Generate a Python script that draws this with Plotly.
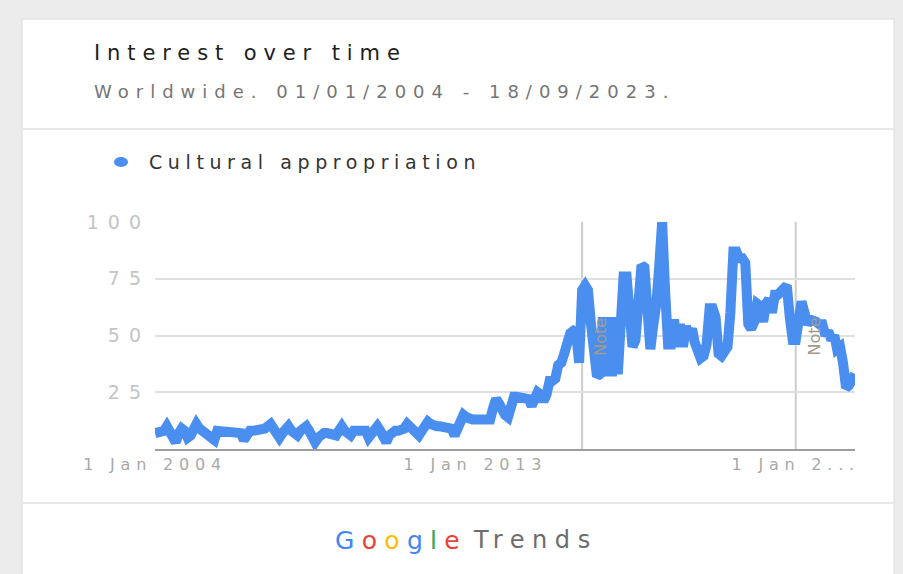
import plotly.graph_objects as go
import pandas as pd

W, H = 903, 574

# ---------------- data ----------------
months = pd.date_range("2004-01-01", "2023-09-01", freq="MS")
interest = [
    7, 7, 8, 8, 10, 8, 6, 3, 7, 9, 8, 5,          # 2004
    6, 8, 11, 9, 8, 7, 6, 5, 4, 8, 8, 8,          # 2005
    8, 8, 8, 7, 8, 7, 4, 7, 8, 8, 8, 8,           # 2006
    8, 9, 10, 11, 9, 7, 5, 7, 9, 10, 8, 7,        # 2007
    6, 8, 9, 10, 8, 6, 3, 5, 7, 7, 7, 7,          # 2008
    7, 6, 8, 10, 8, 6, 6, 8, 8, 8, 8, 8,          # 2009
    5, 7, 9, 10, 8, 6, 3, 6, 8, 8, 8, 8,          # 2010
    9, 11, 10, 9, 8, 6, 8, 10, 12, 11, 10, 10,    # 2011
    10, 10, 10, 10, 9, 6, 9, 12, 15, 14, 13, 13,  # 2012
    13, 13, 13, 13, 12, 13, 18, 22, 20, 17, 15, 14,  # 2013
    18, 23, 23, 23, 22, 23, 22, 19, 24, 25, 24, 21,  # 2014
    24, 30, 30, 31, 37, 38, 42, 48, 51, 52, 51, 38,  # 2015
    70, 72, 70, 55, 40, 32, 33, 58, 32, 58, 32, 58,  # 2016
    33, 58, 76, 76, 55, 45, 48, 60, 81, 80, 50, 44,  # 2017
    55, 64, 80, 100, 70, 46, 46, 57, 45, 55, 45, 54,  # 2018
    50, 53, 47, 44, 40, 41, 46, 62, 62, 58, 42, 41,  # 2019
    43, 45, 60, 87, 87, 84, 84, 82, 55, 53, 56, 64,  # 2020
    63, 56, 64, 66, 60, 68, 68, 70, 72, 72, 58, 48,  # 2021
    48, 62, 65, 60, 55, 57, 57, 56, 55, 55, 50, 52,  # 2022
    48, 50, 44, 45, 38, 27, 28, 31, 33,              # 2023
]
series_name = "Cultural appropriation"
y_tick_vals = [25, 50, 75, 100]
y_tick_labels = ["25", "50", "75", "100"]
x_tick_dates = ["2004-01-01", "2013-01-01", "2022-01-01"]
x_tick_labels = ["1 Jan 2004", "1 Jan 2013", "1 Jan 2..."]
note_dates = ["2016-01-01", "2022-01-01"]
title_text = "Interest over time"
subtitle_text = "Worldwide. 01/01/2004 - 18/09/2023."

FONT = "DejaVu Sans"


def px(x):
    return x / W


def py(y):
    return 1 - y / H


def sp(text, ls):
    return f'<span style="letter-spacing:{ls}px">{text}</span>'


fig = go.Figure()
fig.add_trace(go.Scatter(
    x=months, y=interest, mode="lines",
    line=dict(color="#4a8ff0", width=10),
    hoverinfo="skip", showlegend=False,
))

shapes = []
# card
shapes.append(dict(type="rect", xref="paper", yref="paper",
                   x0=px(22), x1=px(894), y0=py(590), y1=py(19),
                   fillcolor="white", line=dict(color="#dcdcdc", width=1),
                   layer="below"))
# separators
for yy in (129, 503):
    shapes.append(dict(type="line", xref="paper", yref="paper",
                       x0=px(23), x1=px(893), y0=py(yy), y1=py(yy),
                       line=dict(color="#e0e0e0", width=1.5)))
# legend dot
shapes.append(dict(type="circle", xref="paper", yref="paper",
                   x0=px(114), x1=px(128), y0=py(167), y1=py(157),
                   fillcolor="#4a8ff0", line=dict(width=0)))
# note lines
for d in note_dates:
    shapes.append(dict(type="line", xref="x", yref="y", x0=d, x1=d, y0=0, y1=100,
                       line=dict(color="#cccccc", width=2), layer="below"))

annotations = [
    dict(text=sp(title_text, 6.9), x=px(92), y=py(53), xref="paper", yref="paper",
         xanchor="left", yanchor="middle", showarrow=False,
         font=dict(family=FONT, size=21, color="#212121")),
    dict(text=sp(subtitle_text, 7.0), x=px(92), y=py(91), xref="paper", yref="paper",
         xanchor="left", yanchor="middle", showarrow=False,
         font=dict(family=FONT, size=18, color="#757575")),
    dict(text=sp(series_name, 5.6), x=px(147), y=py(162), xref="paper", yref="paper",
         xanchor="left", yanchor="middle", showarrow=False,
         font=dict(family=FONT, size=19, color="#333333")),
    dict(text=('<span style="letter-spacing:7.3px">'
               '<span style="color:#4285F4">G</span>'
               '<span style="color:#EA4335">o</span>'
               '<span style="color:#FBBC05">o</span>'
               '<span style="color:#4285F4">g</span>'
               '<span style="color:#34A853">l</span>'
               '<span style="color:#EA4335">e</span></span>'),
         x=px(333), y=py(540), xref="paper", yref="paper",
         xanchor="left", yanchor="middle", showarrow=False,
         font=dict(family=FONT, size=25, color="#4285F4")),
    dict(text=sp("Trends", 7.6), x=px(471), y=py(540), xref="paper", yref="paper",
         xanchor="left", yanchor="middle", showarrow=False,
         font=dict(family=FONT, size=24, color="#6d6d6d")),
]
for d, shift in zip(note_dates, (19, 19)):
    annotations.append(dict(text="Note", x=d, y=49.5, xref="x", yref="y",
                            xshift=shift, textangle=-90, showarrow=False,
                            font=dict(family=FONT, size=16, color="#a39a8c")))

fig.update_layout(
    width=W, height=H,
    margin=dict(l=0, r=0, t=0, b=0, autoexpand=False),
    paper_bgcolor="#ececec",
    plot_bgcolor="white",
    shapes=shapes,
    annotations=annotations,
    showlegend=False,
    xaxis=dict(
        domain=[px(155), px(855)],
        range=["2004-01-01", "2023-09-01"],
        type="date", automargin=False,
        tickmode="array", tickvals=x_tick_dates,
        ticktext=[sp(t, 5.8) for t in x_tick_labels],
        showgrid=False, zeroline=False,
        showline=True, linecolor="#9e9e9e", linewidth=1.5,
        ticks="", tickfont=dict(family=FONT, size=16, color="#a8a8a8"),
        fixedrange=True,
    ),
    yaxis=dict(
        domain=[1 - 449 / H, 1 - 222 / H],
        range=[0, 100], automargin=False,
        tickmode="array", tickvals=y_tick_vals,
        ticktext=[sp(t, 9) for t in y_tick_labels],
        showgrid=True, gridcolor="#e0e0e0", gridwidth=1.5,
        zeroline=False, showline=False, ticks="",
        ticklabelstandoff=4,
        tickfont=dict(family=FONT, size=19, color="#c4c4c4"),
        fixedrange=True,
    ),
)

fig.write_html("out.html")
